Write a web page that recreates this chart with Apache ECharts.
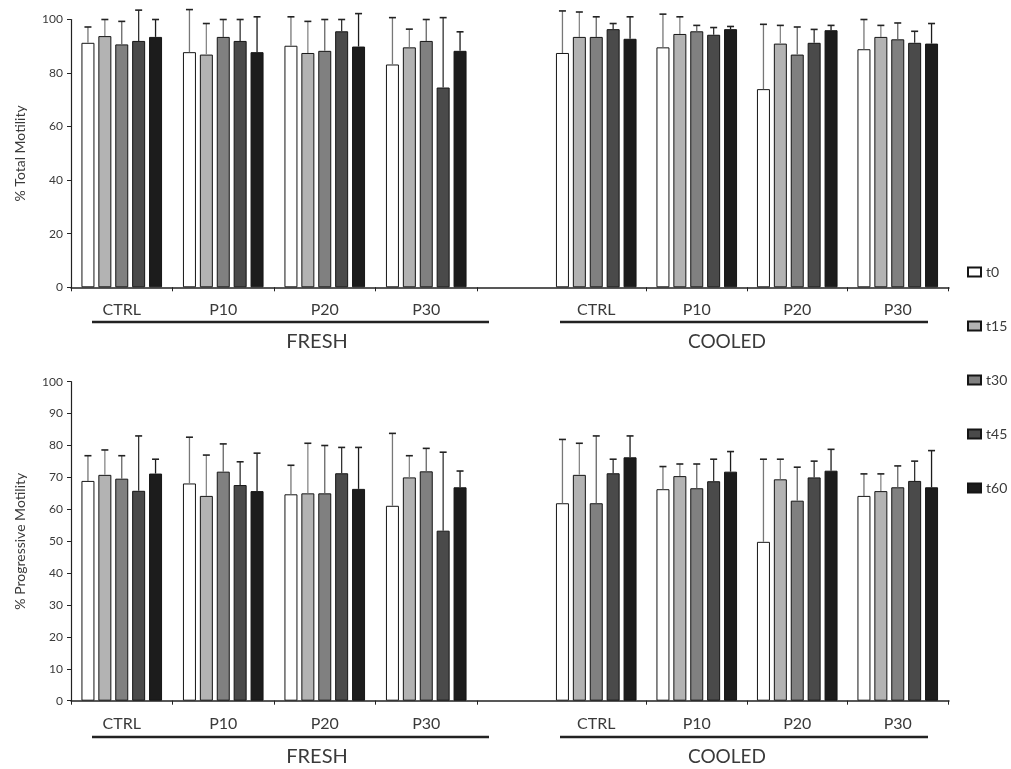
<!DOCTYPE html>
<html>
<head>
<meta charset="utf-8">
<script src="https://cdn.jsdelivr.net/npm/echarts@6/dist/echarts.min.js"></script>
<style>
  html, body { margin: 0; padding: 0; background: #ffffff; }
  #chart { width: 1011px; height: 769px; }
</style>
</head>
<body>
<div id="chart"></div>
<script>
// Treatment groups on each half of the x axis and the sampling times
const categories = ['CTRL', 'P10', 'P20', 'P30'];
const times = ['t0', 't15', 't30', 't45', 't60'];
const groupNames = ['FRESH', 'COOLED'];
const totalTicks = [0, 20, 40, 60, 80, 100];
const progTicks = [0, 10, 20, 30, 40, 50, 60, 70, 80, 90, 100];

// % Total motility — rows: t0..t60, columns: CTRL, P10, P20, P30
const totalFreshMean = [
  [91.3, 87.8, 90.2, 83.2],
  [93.8, 86.9, 87.5, 89.6],
  [90.7, 93.5, 88.3, 92.0],
  [92.0, 92.0, 95.6, 74.6],
  [93.5, 87.8, 89.9, 88.3]
];
const totalFreshSD = [
  [5.9, 15.9, 10.8, 17.5],
  [6.2, 11.6, 11.8, 6.8],
  [8.6, 6.5, 11.7, 8.0],
  [11.5, 8.0, 4.4, 26.1],
  [6.5, 13.2, 12.3, 7.1]
];
const totalCooledMean = [
  [87.5, 89.6, 74.0, 88.9],
  [93.5, 94.6, 91.0, 93.5],
  [93.5, 95.6, 86.9, 92.6],
  [96.4, 94.3, 91.3, 91.3],
  [92.8, 96.4, 96.0, 91.0]
];
const totalCooledSD = [
  [15.7, 12.4, 24.2, 11.1],
  [9.3, 6.4, 6.8, 4.3],
  [7.5, 2.2, 10.3, 6.1],
  [2.1, 2.7, 5.0, 4.3],
  [8.2, 1.0, 1.8, 7.5]
];

// % Progressive motility — rows: t0..t60, columns: CTRL, P10, P20, P30
const progFreshMean = [
  [68.9, 68.1, 64.7, 61.1],
  [70.8, 64.2, 65.0, 70.0],
  [69.6, 71.8, 65.0, 71.9],
  [65.8, 67.6, 71.3, 53.3],
  [71.2, 65.7, 66.4, 66.9]
];
const progFreshSD = [
  [7.9, 14.5, 9.1, 22.7],
  [7.8, 12.8, 15.7, 6.8],
  [7.2, 8.7, 15.0, 7.2],
  [17.2, 7.3, 8.1, 24.6],
  [4.5, 11.9, 13.0, 5.1]
];
const progCooledMean = [
  [61.9, 66.3, 49.8, 64.2],
  [70.8, 70.4, 69.4, 65.7],
  [61.9, 66.6, 62.7, 66.9],
  [71.3, 68.8, 70.0, 68.9],
  [76.3, 71.8, 72.1, 66.9]
];
const progCooledSD = [
  [20.0, 7.1, 25.9, 6.9],
  [9.9, 3.8, 6.3, 5.4],
  [21.1, 7.6, 10.5, 6.7],
  [4.4, 6.9, 5.1, 6.2],
  [6.7, 6.3, 6.7, 11.5]
];

// Styling
const FONT = 'Lato, "Open Sans", sans-serif';
const INK = '#222';
const TEXT = '#3a3a3a';
const fillColors = ['#ffffff', '#b3b3b3', '#808080', '#4a4a4a', '#1c1c1c'];
const errColors = ['#777', '#888', '#666', '#333', '#1c1c1c'];
const BAR_W = 13;
const BAR_GAP = 0.3;

// One panel per grid: fresh/cooled for each motility measure
const panels = [
  { mean: totalFreshMean, sd: totalFreshSD },
  { mean: totalCooledMean, sd: totalCooledSD },
  { mean: progFreshMean, sd: progFreshSD },
  { mean: progCooledMean, sd: progCooledSD }
];

const TOP_Y = 19.5, TOP_H = 267.8;
const BOT_Y = 381.7, BOT_H = 319;
const grid = [
  { left: 71, top: TOP_Y, width: 406, height: TOP_H },
  { left: 546, top: TOP_Y, width: 402, height: TOP_H },
  { left: 71, top: BOT_Y, width: 406, height: BOT_H },
  { left: 546, top: BOT_Y, width: 402, height: BOT_H },
  // full-width baselines spanning both halves
  { left: 71, top: TOP_Y, width: 878, height: TOP_H },
  { left: 71, top: BOT_Y, width: 878, height: BOT_H }
];

function catAxis(gridIndex, hideFirstTick) {
  return {
    type: 'category', gridIndex, data: categories,
    axisLine: { show: false },
    axisTick: {
      show: true, length: 4, lineStyle: { color: INK, width: 1 },
      interval: hideFirstTick ? function (i) { return i !== 0; } : 0
    },
    axisLabel: { fontFamily: FONT, fontSize: 16, color: TEXT, margin: 15 },
    splitLine: { show: false }
  };
}
function baseAxis(gridIndex) {
  return {
    type: 'value', gridIndex, min: 0, max: 1,
    axisLine: { show: true, lineStyle: { color: INK, width: 1.5 } },
    axisTick: { show: false }, axisLabel: { show: false }, splitLine: { show: false }
  };
}
function valAxis(gridIndex, ticks, name, show) {
  return {
    type: 'value', gridIndex, min: ticks[0], max: ticks[ticks.length - 1],
    interval: ticks[1] - ticks[0], show,
    name, nameLocation: 'middle', nameGap: 44, nameRotate: 90,
    nameTextStyle: { fontFamily: FONT, fontSize: 14, color: TEXT },
    axisLine: { show: true, lineStyle: { color: INK, width: 1.2 } },
    axisTick: { show: true, length: 4, lineStyle: { color: INK } },
    axisLabel: { fontFamily: FONT, fontSize: 12, color: TEXT, margin: 8 },
    splitLine: { show: false }
  };
}

const xAxis = [
  catAxis(0, false), catAxis(1, true), catAxis(2, false), catAxis(3, true),
  baseAxis(4), baseAxis(5)
];
const hiddenY = (g) => ({ type: 'value', gridIndex: g, min: 0, max: 1, show: false });
const yAxis = [
  valAxis(0, totalTicks, '% Total Motility', true),
  valAxis(1, totalTicks, '', false),
  valAxis(2, progTicks, '% Progressive Motility', true),
  valAxis(3, progTicks, '', false),
  hiddenY(4), hiddenY(5)
];

const series = [];
panels.forEach((p, pi) => {
  times.forEach((t, ti) => {
    series.push({
      name: t, type: 'bar', xAxisIndex: pi, yAxisIndex: pi,
      data: p.mean[ti], barWidth: BAR_W, barGap: (BAR_GAP * 100) + '%',
      itemStyle: { color: fillColors[ti], borderColor: '#151515', borderWidth: 1 },
      emphasis: { disabled: true }, silent: true
    });
  });
  // error bars: upper whisker from the bar top with a short cap
  const errData = [];
  times.forEach((t, ti) => {
    categories.forEach((c, ci) => errData.push([ci, p.mean[ti][ci], p.sd[ti][ci], ti]));
  });
  series.push({
    name: 'sd' + pi, type: 'custom', xAxisIndex: pi, yAxisIndex: pi,
    data: errData, silent: true, z: 5,
    encode: { x: 0, y: 1 },
    renderItem(params, api) {
      const ci = api.value(0), m = api.value(1), s = api.value(2), ti = api.value(3);
      const base = api.coord([ci, m]);
      const top = api.coord([ci, m + s]);
      const step = BAR_W * (1 + BAR_GAP);
      const x = base[0] + (ti - 2) * step;
      return {
        type: 'group', children: [
          { type: 'line', shape: { x1: x, y1: base[1], x2: x, y2: top[1] },
            style: { stroke: errColors[ti], lineWidth: 1.3 } },
          { type: 'line', shape: { x1: x - 3.5, y1: top[1], x2: x + 3.5, y2: top[1] },
            style: { stroke: INK, lineWidth: 1.6 } }
        ]
      };
    }
  });
});

// Group brackets under the category labels
function groupDecor(y, ys) {
  return [
    { type: 'line', shape: { x1: 92, y1: y, x2: 489, y2: y }, style: { stroke: INK, lineWidth: 2.5 } },
    { type: 'line', shape: { x1: 560, y1: y, x2: 928, y2: y }, style: { stroke: INK, lineWidth: 2.5 } },
    { type: 'text', x: 317, y: ys, style: { text: groupNames[0], font: '20px ' + FONT, fill: TEXT, align: 'center', verticalAlign: 'middle' } },
    { type: 'text', x: 727, y: ys, style: { text: groupNames[1], font: '19px ' + FONT, fill: TEXT, align: 'center', verticalAlign: 'middle' } }
  ];
}

const chart = echarts.init(document.getElementById('chart'), null, { renderer: 'canvas' });
chart.setOption({
  backgroundColor: '#ffffff',
  animation: false,
  grid, xAxis, yAxis, series,
  legend: {
    data: times, orient: 'vertical', left: 962, top: 260,
    itemWidth: 13, itemHeight: 9, itemGap: 40, icon: 'rect',
    textStyle: { fontFamily: FONT, fontSize: 14, color: TEXT }
  },
  graphic: groupDecor(322, 342).concat(groupDecor(737, 757))
});
</script>
</body>
</html>
